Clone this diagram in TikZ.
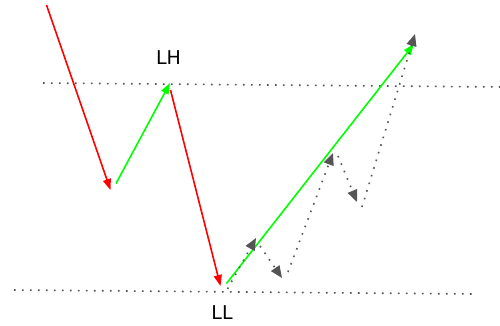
\documentclass[tikz,border=0pt]{standalone}
\usepackage{fontspec}
\setmainfont{DejaVu Sans}
\usetikzlibrary{arrows.meta}
\definecolor{dotgray}{HTML}{555555}
\definecolor{brightred}{HTML}{FF0000}
\definecolor{brightgreen}{HTML}{00FF00}
\tikzset{
  redarrow/.style={draw=brightred, line width=1.6pt, -{Triangle[length=11pt,width=8pt]}},
  greenarrow/.style={draw=brightgreen, line width=1.6pt, -{Triangle[length=11pt,width=8pt]}},
  levelline/.style={draw=dotgray, line width=1.6pt, dash pattern=on 1.6pt off 6.4pt},
  patharrow/.style={draw=dotgray, line width=1.6pt, dash pattern=on 1.6pt off 6.4pt, -{Triangle[length=12pt,width=10pt]}},
  lbl/.style={font=\fontsize{19}{22}\selectfont, inner sep=0pt}
}
\begin{document}
\begin{tikzpicture}[x=1pt,y=-1pt]
\useasboundingbox (0,0) rectangle (500,325);
% level lines
\coordinate (u1) at (43,83);
\coordinate (u2) at (500,87);
\coordinate (l1) at (14,290);
\coordinate (l2) at (472,294);
\draw[levelline] (u1) -- (u2);
\draw[levelline] (l1) -- (l2);
% red / green path
\coordinate (r1s) at (46.5,5);
\coordinate (r1e) at (110.5,190);
\coordinate (g1s) at (116,183.5);
\coordinate (g1e) at (170,83);
\coordinate (r2s) at (170.5,90);
\coordinate (r2e) at (220.5,286);
\coordinate (g2s) at (226.5,283.5);
\coordinate (g2e) at (414,44);
\draw[redarrow] (r1s) -- (r1e);
\draw[greenarrow] (g1s) -- (g1e);
\draw[redarrow] (r2s) -- (r2e);
\draw[greenarrow] (g2s) -- (g2e);
% gray dotted path
\coordinate (p1s) at (227.5,289);
\coordinate (p1e) at (256,238);
\coordinate (p2s) at (260,246);
\coordinate (p2e) at (282,278);
\coordinate (p3s) at (288,272);
\coordinate (p3e) at (333,153);
\coordinate (p4s) at (338,156);
\coordinate (p4e) at (357,202);
\coordinate (p5s) at (362,207);
\coordinate (p5e) at (415,34);
\draw[patharrow] (p1s) -- (p1e);
\draw[patharrow] (p2s) -- (p2e);
\draw[patharrow] (p3s) -- (p3e);
\draw[patharrow] (p4s) -- (p4e);
\draw[patharrow] (p5s) -- (p5e);
% labels
\node[lbl] (LH) at (168.5,57.5) {LH};
\node[lbl] (LL) at (222,313) {LL};
\end{tikzpicture}
\end{document}
